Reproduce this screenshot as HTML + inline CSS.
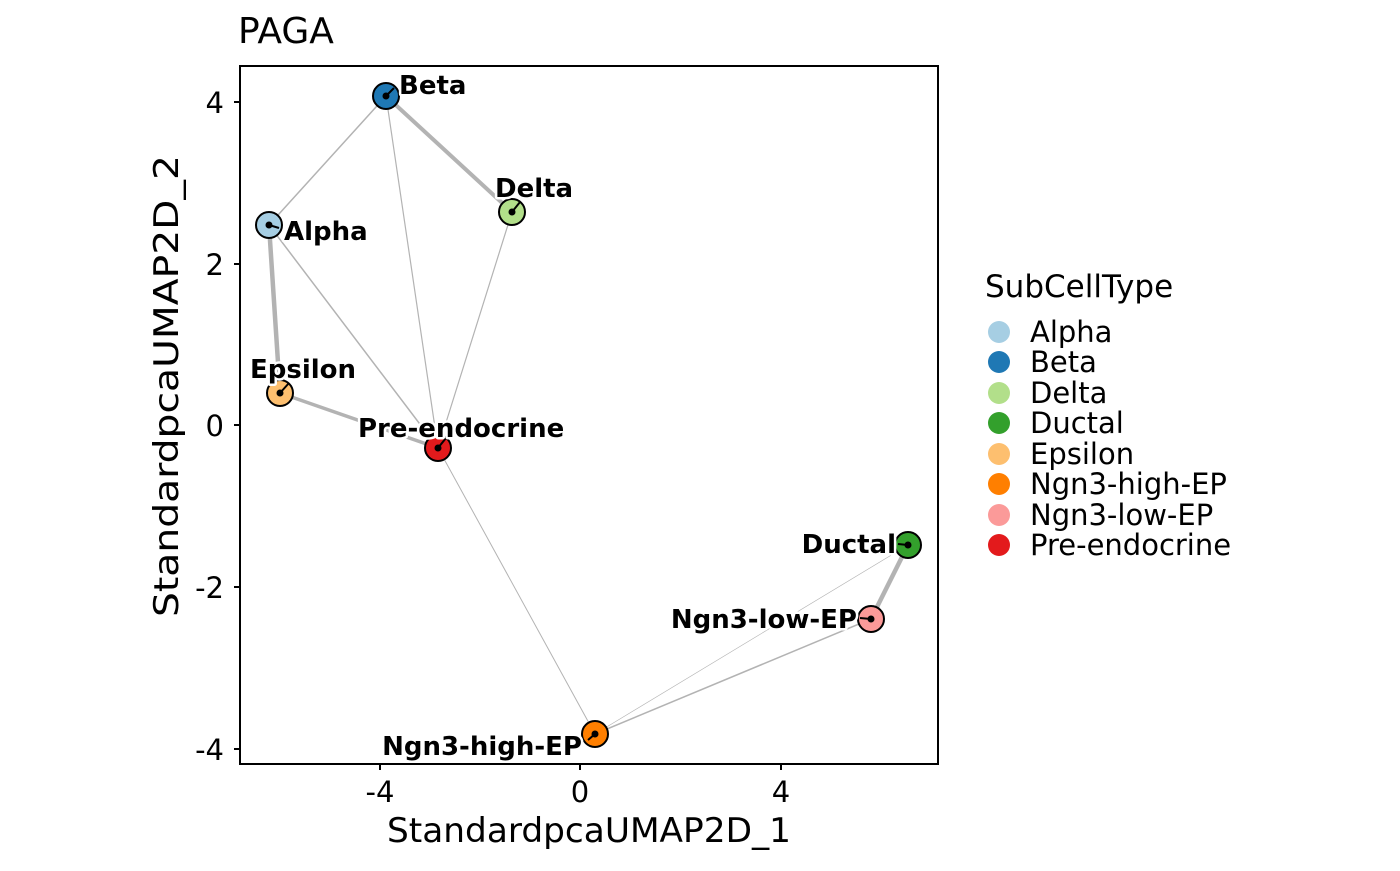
<!DOCTYPE html>
<html><head><meta charset="utf-8"></head><body style="margin:0;padding:0;background:#fff;">
<svg width="1400" height="866" xmlns="http://www.w3.org/2000/svg" font-family="DejaVu Sans, Liberation Sans, sans-serif">
<rect width="1400" height="866" fill="#fff"/>
<text x="238" y="43" font-size="36">PAGA</text>
<g stroke="#b3b3b3" fill="none" stroke-linecap="round">
<line x1="386" y1="96" x2="269" y2="225" stroke-width="1.5"/>
<line x1="386" y1="96" x2="438" y2="448" stroke-width="1.2"/>
<line x1="386" y1="96" x2="512" y2="212" stroke-width="4"/>
<line x1="269" y1="225" x2="280" y2="393" stroke-width="4.5"/>
<line x1="269" y1="225" x2="438" y2="448" stroke-width="1.5"/>
<line x1="280" y1="393" x2="438" y2="448" stroke-width="3.5"/>
<line x1="512" y1="212" x2="438" y2="448" stroke-width="1.2"/>
<line x1="438" y1="448" x2="595" y2="734" stroke-width="1"/>
<line x1="595" y1="734" x2="871" y2="619" stroke-width="1.5"/>
<line x1="595" y1="734" x2="908" y2="545" stroke-width="0.6"/>
<line x1="908" y1="545" x2="871" y2="619" stroke-width="4.5"/>
</g>
<g stroke="#000" stroke-width="2">
<circle cx="386" cy="96" r="13" fill="#1f78b4"/>
<circle cx="512" cy="212" r="13" fill="#b2df8a"/>
<circle cx="269" cy="225" r="13" fill="#a6cee3"/>
<circle cx="280" cy="393" r="13" fill="#fdbf6f"/>
<circle cx="438" cy="448" r="13" fill="#e31a1c"/>
<circle cx="908" cy="545" r="13" fill="#33a02c"/>
<circle cx="871" cy="619" r="13" fill="#fb9a99"/>
<circle cx="595" cy="734" r="13" fill="#ff7f00"/>
</g>
<g stroke="#000" stroke-width="2">
<line x1="386" y1="96" x2="394" y2="88"/>
<line x1="512" y1="212" x2="520" y2="202"/>
<line x1="269" y1="225" x2="279" y2="228"/>
<line x1="280" y1="393" x2="289" y2="383"/>
<line x1="438" y1="448" x2="446" y2="438"/>
<line x1="908" y1="545" x2="898" y2="544"/>
<line x1="871" y1="619" x2="860" y2="618"/>
<line x1="595" y1="734" x2="588" y2="740"/>
</g>
<g fill="#000">
<circle cx="386" cy="96" r="3.5"/><circle cx="512" cy="212" r="3.5"/><circle cx="269" cy="225" r="3.5"/>
<circle cx="280" cy="393" r="3.5"/><circle cx="438" cy="448" r="3.5"/><circle cx="908" cy="545" r="3.5"/>
<circle cx="871" cy="619" r="3.5"/><circle cx="595" cy="734" r="3.5"/>
</g>
<g font-weight="bold" font-size="26" fill="#000" stroke="#fff" stroke-width="5" paint-order="stroke" stroke-linejoin="round">
<text x="399" y="94">Beta</text>
<text x="495" y="197">Delta</text>
<text x="284" y="240">Alpha</text>
<text x="250" y="378">Epsilon</text>
<text x="358" y="437">Pre-endocrine</text>
<text x="896" y="553" text-anchor="end">Ductal</text>
<text x="857" y="628" text-anchor="end">Ngn3-low-EP</text>
<text x="582" y="755" text-anchor="end">Ngn3-high-EP</text>
</g>
<rect x="240" y="66" width="698" height="698" fill="none" stroke="#000" stroke-width="2"/>
<g stroke="#000" stroke-width="2">
<line x1="380" y1="764" x2="380" y2="770"/><line x1="580" y1="764" x2="580" y2="770"/><line x1="781" y1="764" x2="781" y2="770"/>
<line x1="234" y1="102" x2="240" y2="102"/><line x1="234" y1="264" x2="240" y2="264"/><line x1="234" y1="425" x2="240" y2="425"/><line x1="234" y1="587" x2="240" y2="587"/><line x1="234" y1="749" x2="240" y2="749"/>
</g>
<g font-size="29" fill="#000">
<text x="380" y="802" text-anchor="middle">-4</text>
<text x="580" y="802" text-anchor="middle">0</text>
<text x="781" y="802" text-anchor="middle">4</text>
<text x="224" y="113" text-anchor="end">4</text>
<text x="224" y="275" text-anchor="end">2</text>
<text x="224" y="436" text-anchor="end">0</text>
<text x="224" y="598" text-anchor="end">-2</text>
<text x="224" y="760" text-anchor="end">-4</text>
</g>
<text x="589" y="842" text-anchor="middle" font-size="34" textLength="404" lengthAdjust="spacingAndGlyphs">StandardpcaUMAP2D_1</text>
<text transform="translate(178,386) rotate(-90)" text-anchor="middle" font-size="34" textLength="462" lengthAdjust="spacingAndGlyphs">StandardpcaUMAP2D_2</text>
<text x="985" y="297" font-size="31">SubCellType</text>
<g font-size="29">
<circle cx="999" cy="332" r="11" fill="#a6cee3"/><text x="1030" y="342">Alpha</text>
<circle cx="999" cy="362" r="11" fill="#1f78b4"/><text x="1030" y="372">Beta</text>
<circle cx="999" cy="393" r="11" fill="#b2df8a"/><text x="1030" y="403">Delta</text>
<circle cx="999" cy="423" r="11" fill="#33a02c"/><text x="1030" y="433">Ductal</text>
<circle cx="999" cy="454" r="11" fill="#fdbf6f"/><text x="1030" y="464">Epsilon</text>
<circle cx="999" cy="484" r="11" fill="#ff7f00"/><text x="1030" y="494">Ngn3-high-EP</text>
<circle cx="999" cy="515" r="11" fill="#fb9a99"/><text x="1030" y="525">Ngn3-low-EP</text>
<circle cx="999" cy="545" r="11" fill="#e31a1c"/><text x="1030" y="555">Pre-endocrine</text>
</g>
</svg>
</body></html>
